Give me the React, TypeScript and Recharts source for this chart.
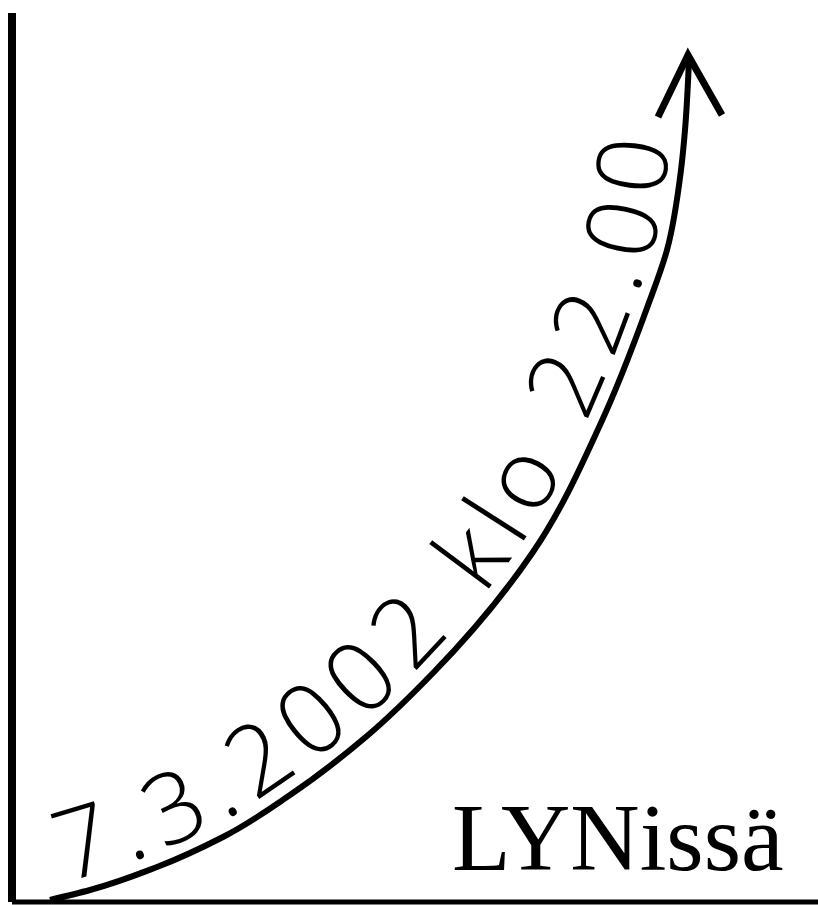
import { LineChart, Line, XAxis, YAxis, Curve, ReferenceLine } from "recharts";

// curve: x = px from left axis, y = px above bottom axis
const arcX = [38, 78, 145, 211, 278, 355, 421, 521, 588, 635, 655, 669, 673, 677];
const arcY = [2, 12, 35, 65, 107, 166, 229, 350, 477, 594, 652, 732, 772, 842];
const arcLabel = "7.3.2002 klo 22.00";
const cornerLabel = "LYNissä";

const data = arcX.map((x, i) => ({ x, y: arcY[i] }));

// eslint-disable-next-line @typescript-eslint/no-explicit-any
function ArcDot(props: any) {
  const { cx, cy, index, points } = props;
  if (index !== data.length - 1) return <g key={`d-${index}`} />;
  return (
    <g key={`d-${index}`}>
      <Curve id="arcPath" points={points} type="monotoneY" fill="none" stroke="none" />
      <text fontFamily="'Open Sans', sans-serif" fontWeight={350} fontSize={98} fill="#000" letterSpacing={13}>
        <textPath href="#arcPath" startOffset={20}>
          <tspan dy={-14}>{arcLabel}</tspan>
        </textPath>
      </text>
      <polyline
        points={`${cx - 31},${cy + 57} ${cx - 1},${cy - 5} ${cx + 33},${cy + 55}`}
        fill="none" stroke="#000" strokeWidth={7} strokeLinejoin="miter"
      />
    </g>
  );
}

export default function App() {
  return (
    <div>
      <style>{"body{margin:0;background:#fff}"}</style>
      <LineChart width={818} height={905} data={data} margin={{ top: 13, right: 0, left: 12, bottom: 3 }}>
        <XAxis dataKey="x" type="number" domain={[0, 806]} hide />
        <YAxis dataKey="y" type="number" domain={[0, 889]} hide />
        <ReferenceLine x={0} stroke="#000" strokeWidth={8} ifOverflow="visible" />
        <ReferenceLine y={0} stroke="#000" strokeWidth={5} ifOverflow="visible" />
        <Line type="monotoneY" dataKey="y" stroke="#000" strokeWidth={6} dot={<ArcDot />}
          activeDot={false} isAnimationActive={false} />
        <text x={452} y={870} fontFamily="'Liberation Serif', 'Times New Roman', serif" fontSize={96} fill="#000">
          {cornerLabel}
        </text>
      </LineChart>
    </div>
  );
}
